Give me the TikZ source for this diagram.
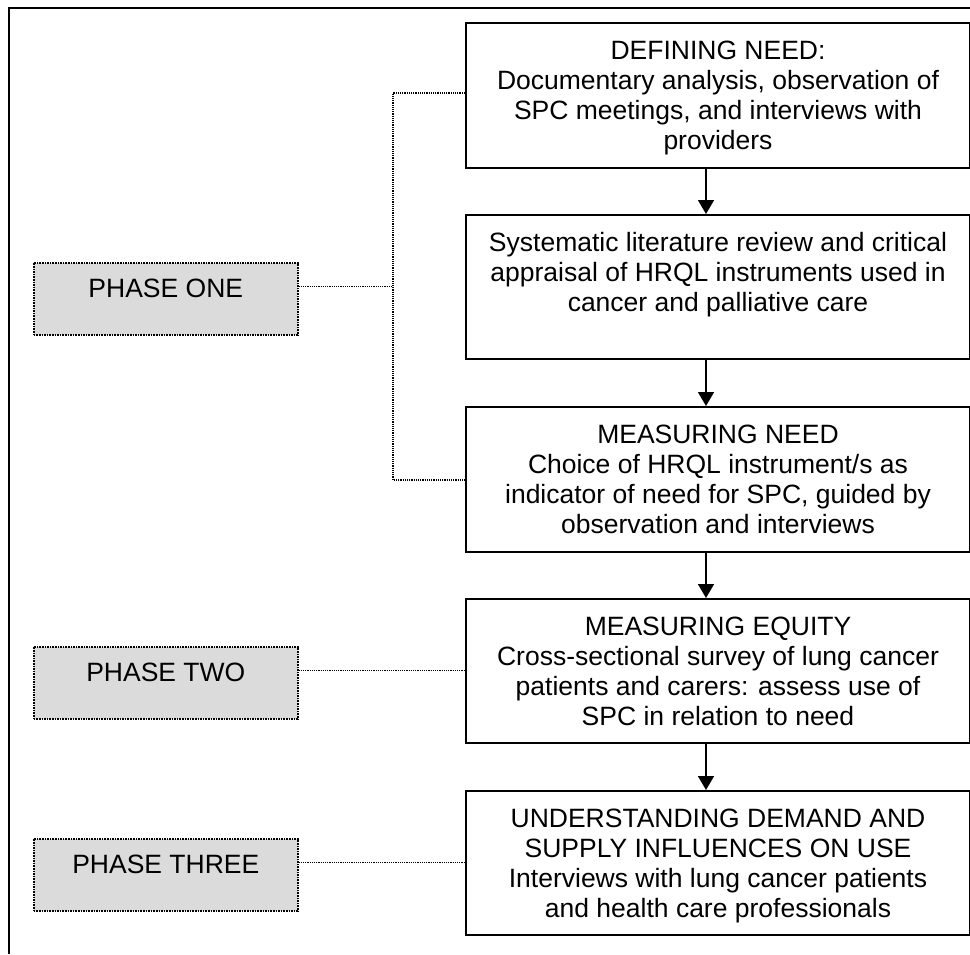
\documentclass[tikz,border=0pt]{standalone}
\usepackage{fontspec}
\setmainfont{Liberation Sans}
\usetikzlibrary{arrows.meta}

\tikzset{
  stepbox/.style={draw, line width=2pt, inner sep=0pt, anchor=north west, fill=white},
  phasebox/.style={draw, densely dotted, line width=1.6pt, fill=black!14, inner sep=0pt,
                   anchor=north west},
  flow/.style={line width=1.5pt, -{Triangle[width=16pt,length=14pt]}},
  link/.style={densely dotted, line width=1.2pt},
  shaft/.style={xshift=-12pt},
  tap/.style={yshift=12pt}
}

% step box content: height, top gap, text
\newcommand{\boxbody}[3]{%
  \parbox[c][#1][t]{504pt}{\centering\fontsize{26.5}{30}\selectfont\vspace*{#2}#3}}
% phase label content
\newcommand{\phasebody}[1]{%
  \parbox[c][72pt][t]{264pt}{\centering\fontsize{26.5}{30}\selectfont\vspace*{16.5pt}#1}}

\begin{document}
\begin{tikzpicture}[x=1pt,y=-1pt]
\useasboundingbox (0,0) rectangle (970,954);

% outer frame
\draw[line width=2pt] (9,954) -- (9,8) -- (970,8);

% main chain of steps
\node[stepbox] (need) at (465,22)
  {\boxbody{145pt}{17.5pt}{DEFINING NEED:\\Documentary analysis, observation of\\SPC meetings, and interviews with\\providers}};
\node[stepbox] (review) at (465,214)
  {\boxbody{144pt}{17.5pt}{Systematic literature review and critical\\appraisal of HRQL instruments used in\\cancer and palliative care}};
\node[stepbox] (measure) at (465,406)
  {\boxbody{145pt}{17.5pt}{MEASURING NEED\\Choice of HRQL instrument/s as\\indicator of need for SPC, guided by\\observation and interviews}};
\node[stepbox] (equity) at (465,598)
  {\boxbody{144pt}{17.5pt}{MEASURING EQUITY\\Cross-sectional survey of lung cancer\\patients and carers: assess use of\\SPC in relation to need}};
\node[stepbox] (demand) at (465,790)
  {\boxbody{144pt}{17.5pt}{UNDERSTANDING DEMAND AND\\SUPPLY INFLUENCES ON USE\\Interviews with lung cancer patients\\and health care professionals}};

% arrows between steps
\draw[flow] ([shaft]need.south) -- ([shaft]review.north);
\draw[flow] ([shaft]review.south) -- ([shaft]measure.north);
\draw[flow] ([shaft]measure.south) -- ([shaft]equity.north);
\draw[flow] ([shaft]equity.south) -- ([shaft]demand.north);

% phase labels
\node[phasebox] (p1) at (33,262) {\phasebody{PHASE ONE}};
\node[phasebox] (p2) at (33,646) {\phasebody{PHASE TWO}};
\node[phasebox] (p3) at (33,838) {\phasebody{PHASE THREE}};

% dotted links from phases to steps
\coordinate (bustop) at (393,93);
\coordinate (busbot) at (393,480);
\coordinate (p1tap) at ([tap]p1.east);
\coordinate (p2tap) at ([tap]p2.east);
\coordinate (p3tap) at ([tap]p3.east);
\draw[link] (need.west |- bustop) -- (bustop) -- (busbot) -- (measure.west |- busbot);
\draw[link] (p1tap) -- (bustop |- p1tap);
\draw[link] (p2tap) -- (equity.west |- p2tap);
\draw[link] (p3tap) -- (demand.west |- p3tap);
\end{tikzpicture}
\end{document}
